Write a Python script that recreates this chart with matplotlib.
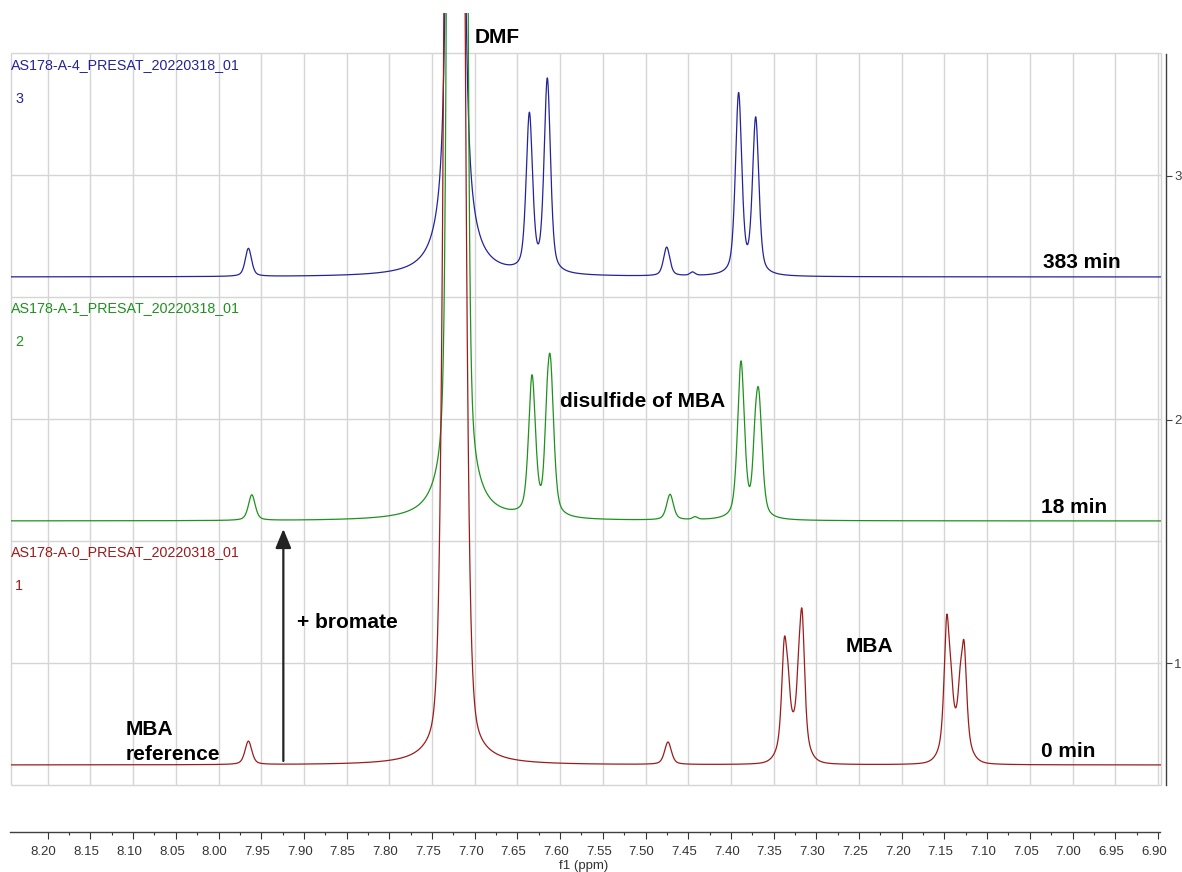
import numpy as np
import matplotlib
matplotlib.use("Agg")
import matplotlib.pyplot as plt
from matplotlib.transforms import ScaledTranslation

plt.rcParams['font.family'] = ['Liberation Sans', 'DejaVu Sans']

# ---------------------------------------------------------------- data
# chemical-shift window (ppm)
ppm_left, ppm_right = 8.243, 6.8964

# 0 min (before bromate): line centres, heights, FWHM (ppm), Lorentzian fraction
t0_shift  = [7.7237, 7.7237, 7.965, 7.4737,
             7.3375, 7.3331, 7.3273, 7.3208, 7.3167,
             7.1473, 7.1423, 7.1370, 7.1317, 7.1270]
t0_height = [10.66, 9.10, 0.096, 0.092,
             0.39, 0.14, 0.12, 0.14, 0.505,
             0.494, 0.14, 0.12, 0.14, 0.38]
t0_width  = [0.0171, 0.0070, 0.0095, 0.0095,
             0.0072, 0.0060, 0.0270, 0.0060, 0.0072,
             0.0072, 0.0060, 0.0270, 0.0060, 0.0072]
t0_eta    = [0.0, 1.0, 0.5, 0.5,
             0.6, 0.6, 0.0, 0.6, 0.6,
             0.6, 0.6, 0.0, 0.6, 0.6]

# 18 min
t18_shift  = [7.7205, 7.7205, 7.961, 7.6329, 7.6157, 7.6115,
              7.4713, 7.442, 7.3882, 7.3718, 7.3675]
t18_height = [32.5, 10.9, 0.105, 0.565, 0.16, 0.60,
              0.105, 0.011, 0.64, 0.14, 0.48]
t18_width  = [0.0120, 0.0070, 0.0095, 0.0095, 0.0065, 0.0095,
              0.0095, 0.0070, 0.0095, 0.0065, 0.0095]
t18_eta    = [0.0, 1.0, 0.5, 0.5, 0.5, 0.5,
              0.5, 0.5, 0.5, 0.5, 0.5]

# 383 min
t383_shift  = [7.7225, 7.7225, 7.965, 7.636, 7.615,
               7.4752, 7.445, 7.391, 7.371]
t383_height = [3.46, 11.4, 0.115, 0.64, 0.79,
               0.118, 0.014, 0.74, 0.638]
t383_width  = [0.0130, 0.0070, 0.0088, 0.0088, 0.0088,
               0.0088, 0.0070, 0.0088, 0.0088]
t383_eta    = [0.0, 1.0, 0.5, 0.5, 0.5,
               0.5, 0.5, 0.5, 0.5]

offsets = [0.582, 1.582, 2.582]
colors = ['#9c1c1c', '#1e921e', '#23239c']
names = ['AS178-A-0_PRESAT_20220318_01', 'AS178-A-1_PRESAT_20220318_01',
         'AS178-A-4_PRESAT_20220318_01']
numbers = ['1', '2', '3']
times = ['0 min', '18 min', '383 min']

ticks = np.round(np.arange(6.90, 8.2001, 0.05), 2)


def spectrum(x, shifts, heights, widths, etas):
    y = np.zeros_like(x)
    for c, h, w, e in zip(shifts, heights, widths, etas):
        d = (x - c) / (w / 2.0)
        y += h * (e / (1.0 + d ** 2) + (1.0 - e) * np.exp(-np.log(2) * d ** 2))
    return y


# ---------------------------------------------------------------- figure
W, H = 1182, 872
fig = plt.figure(figsize=(W / 100, H / 100), dpi=100)


def fx(px):
    return px / W


def fy(py):
    return 1 - py / H


PX_PER_UNIT = 244.0
ax = fig.add_axes([fx(11), fy(785), 1150 / W, 772 / H])
ax.set_xlim(ppm_left, ppm_right)
ax.set_ylim(0.5, 0.5 + 772 / PX_PER_UNIT)
ax.axis('off')

grid_c = '#d5d5d5'
ax.vlines(ticks, 0.5, 3.5, color=grid_c, lw=1.0, zorder=0, clip_on=False)
ax.vlines([ppm_left, ppm_right], 0.5, 3.5, color=grid_c, lw=1.0, zorder=0,
          clip_on=False)
ax.hlines(np.arange(0.5, 3.51, 0.5), ppm_left, ppm_right, color=grid_c,
          lw=1.0, zorder=0, clip_on=False)

x = np.linspace(ppm_left, ppm_right, 9000)
data = [(t0_shift, t0_height, t0_width, t0_eta),
        (t18_shift, t18_height, t18_width, t18_eta),
        (t383_shift, t383_height, t383_width, t383_eta)]
# draw top trace first so the lower ones sit on top of the DMF line
for i in [2, 1, 0]:
    y = spectrum(x, *data[i]) + offsets[i]
    ax.plot(x, y, color=colors[i], lw=0.9, zorder=3 + (2 - i))

# right intensity scale
ay = fig.add_axes([fx(1146), fy(785), 20 / W, 731 / H])
ay.set_ylim(0.5, 3.5)
ay.patch.set_visible(False)
for s in ['left', 'top', 'bottom']:
    ay.spines[s].set_visible(False)
ay.spines['right'].set_color('#404040')
ay.spines['right'].set_linewidth(1.0)
ay.set_xticks([])
ay.yaxis.tick_right()
ay.set_yticks([1, 2, 3])
ay.tick_params(axis='y', direction='out', length=4.3, width=0.8, pad=1.5,
               labelsize=9.5, colors='#404040')

# chemical shift axis
ab = fig.add_axes([fx(10), fy(832), 1150 / W, 0.0001])
ab.set_xlim(ppm_left + 1 / 854, ppm_right + 1 / 854)
ab.patch.set_visible(False)
for s in ['left', 'top', 'right']:
    ab.spines[s].set_visible(False)
ab.spines['bottom'].set_color('#404040')
ab.spines['bottom'].set_linewidth(1.0)
ab.set_yticks([])
ab.set_xticks(ticks)
ab.set_xticklabels([f'{t:.2f}' for t in ticks])
ab.set_xticks(np.round(ticks[:-1] + 0.025, 3), minor=True)
ab.tick_params(axis='x', which='major', direction='out', length=5, width=0.8,
               pad=5, labelsize=9.5, colors='#333333')
ab.tick_params(axis='x', which='minor', direction='out', length=2.5,
               width=0.8, colors='#333333')
shift = ScaledTranslation(-4 / 100, 0, fig.dpi_scale_trans)
for lbl in ab.get_xticklabels():
    lbl.set_transform(lbl.get_transform() + shift)
fig.text(fx(584), fy(866), 'f1 (ppm)', ha='center', va='center',
         fontsize=9.5, color='#333333')

# trace titles
panel_tops = [541, 297, 54]
for i in range(3):
    fig.text(fx(11), fy(panel_tops[i] + 11), names[i], ha='left', va='center',
             fontsize=10.3, color=colors[i])
    fig.text(fx(15), fy(panel_tops[i] + 45), numbers[i], ha='left',
             va='center', fontsize=10.3, color=colors[i])

bold = dict(fontsize=15, fontweight='bold', color='black', va='baseline',
            ha='left')
time_base = [757, 513, 268]
time_left = [1041, 1041, 1043]
for i in range(3):
    fig.text(fx(time_left[i]), fy(time_base[i]), times[i], **bold)

fig.text(fx(475), fy(43), 'DMF', **bold)
fig.text(fx(560), fy(407), 'disulfide of MBA', **bold)
fig.text(fx(846), fy(652), 'MBA', **bold)
fig.text(fx(297), fy(628), '+ bromate', **bold)
fig.text(fx(126), fy(735), 'MBA', **bold)
fig.text(fx(126), fy(760), 'reference', **bold)

arrow_ppm = 7.9241
ax.annotate('', xy=(arrow_ppm, 0.5 + (785 - 529) / PX_PER_UNIT),
            xytext=(arrow_ppm, 0.5 + (785 - 761) / PX_PER_UNIT),
            arrowprops=dict(arrowstyle='-|>,head_length=0.58,head_width=0.24',
                            color='#222222', lw=1.6, shrinkA=0, shrinkB=0,
                            mutation_scale=20))

fig.savefig('out.png', dpi=100)
